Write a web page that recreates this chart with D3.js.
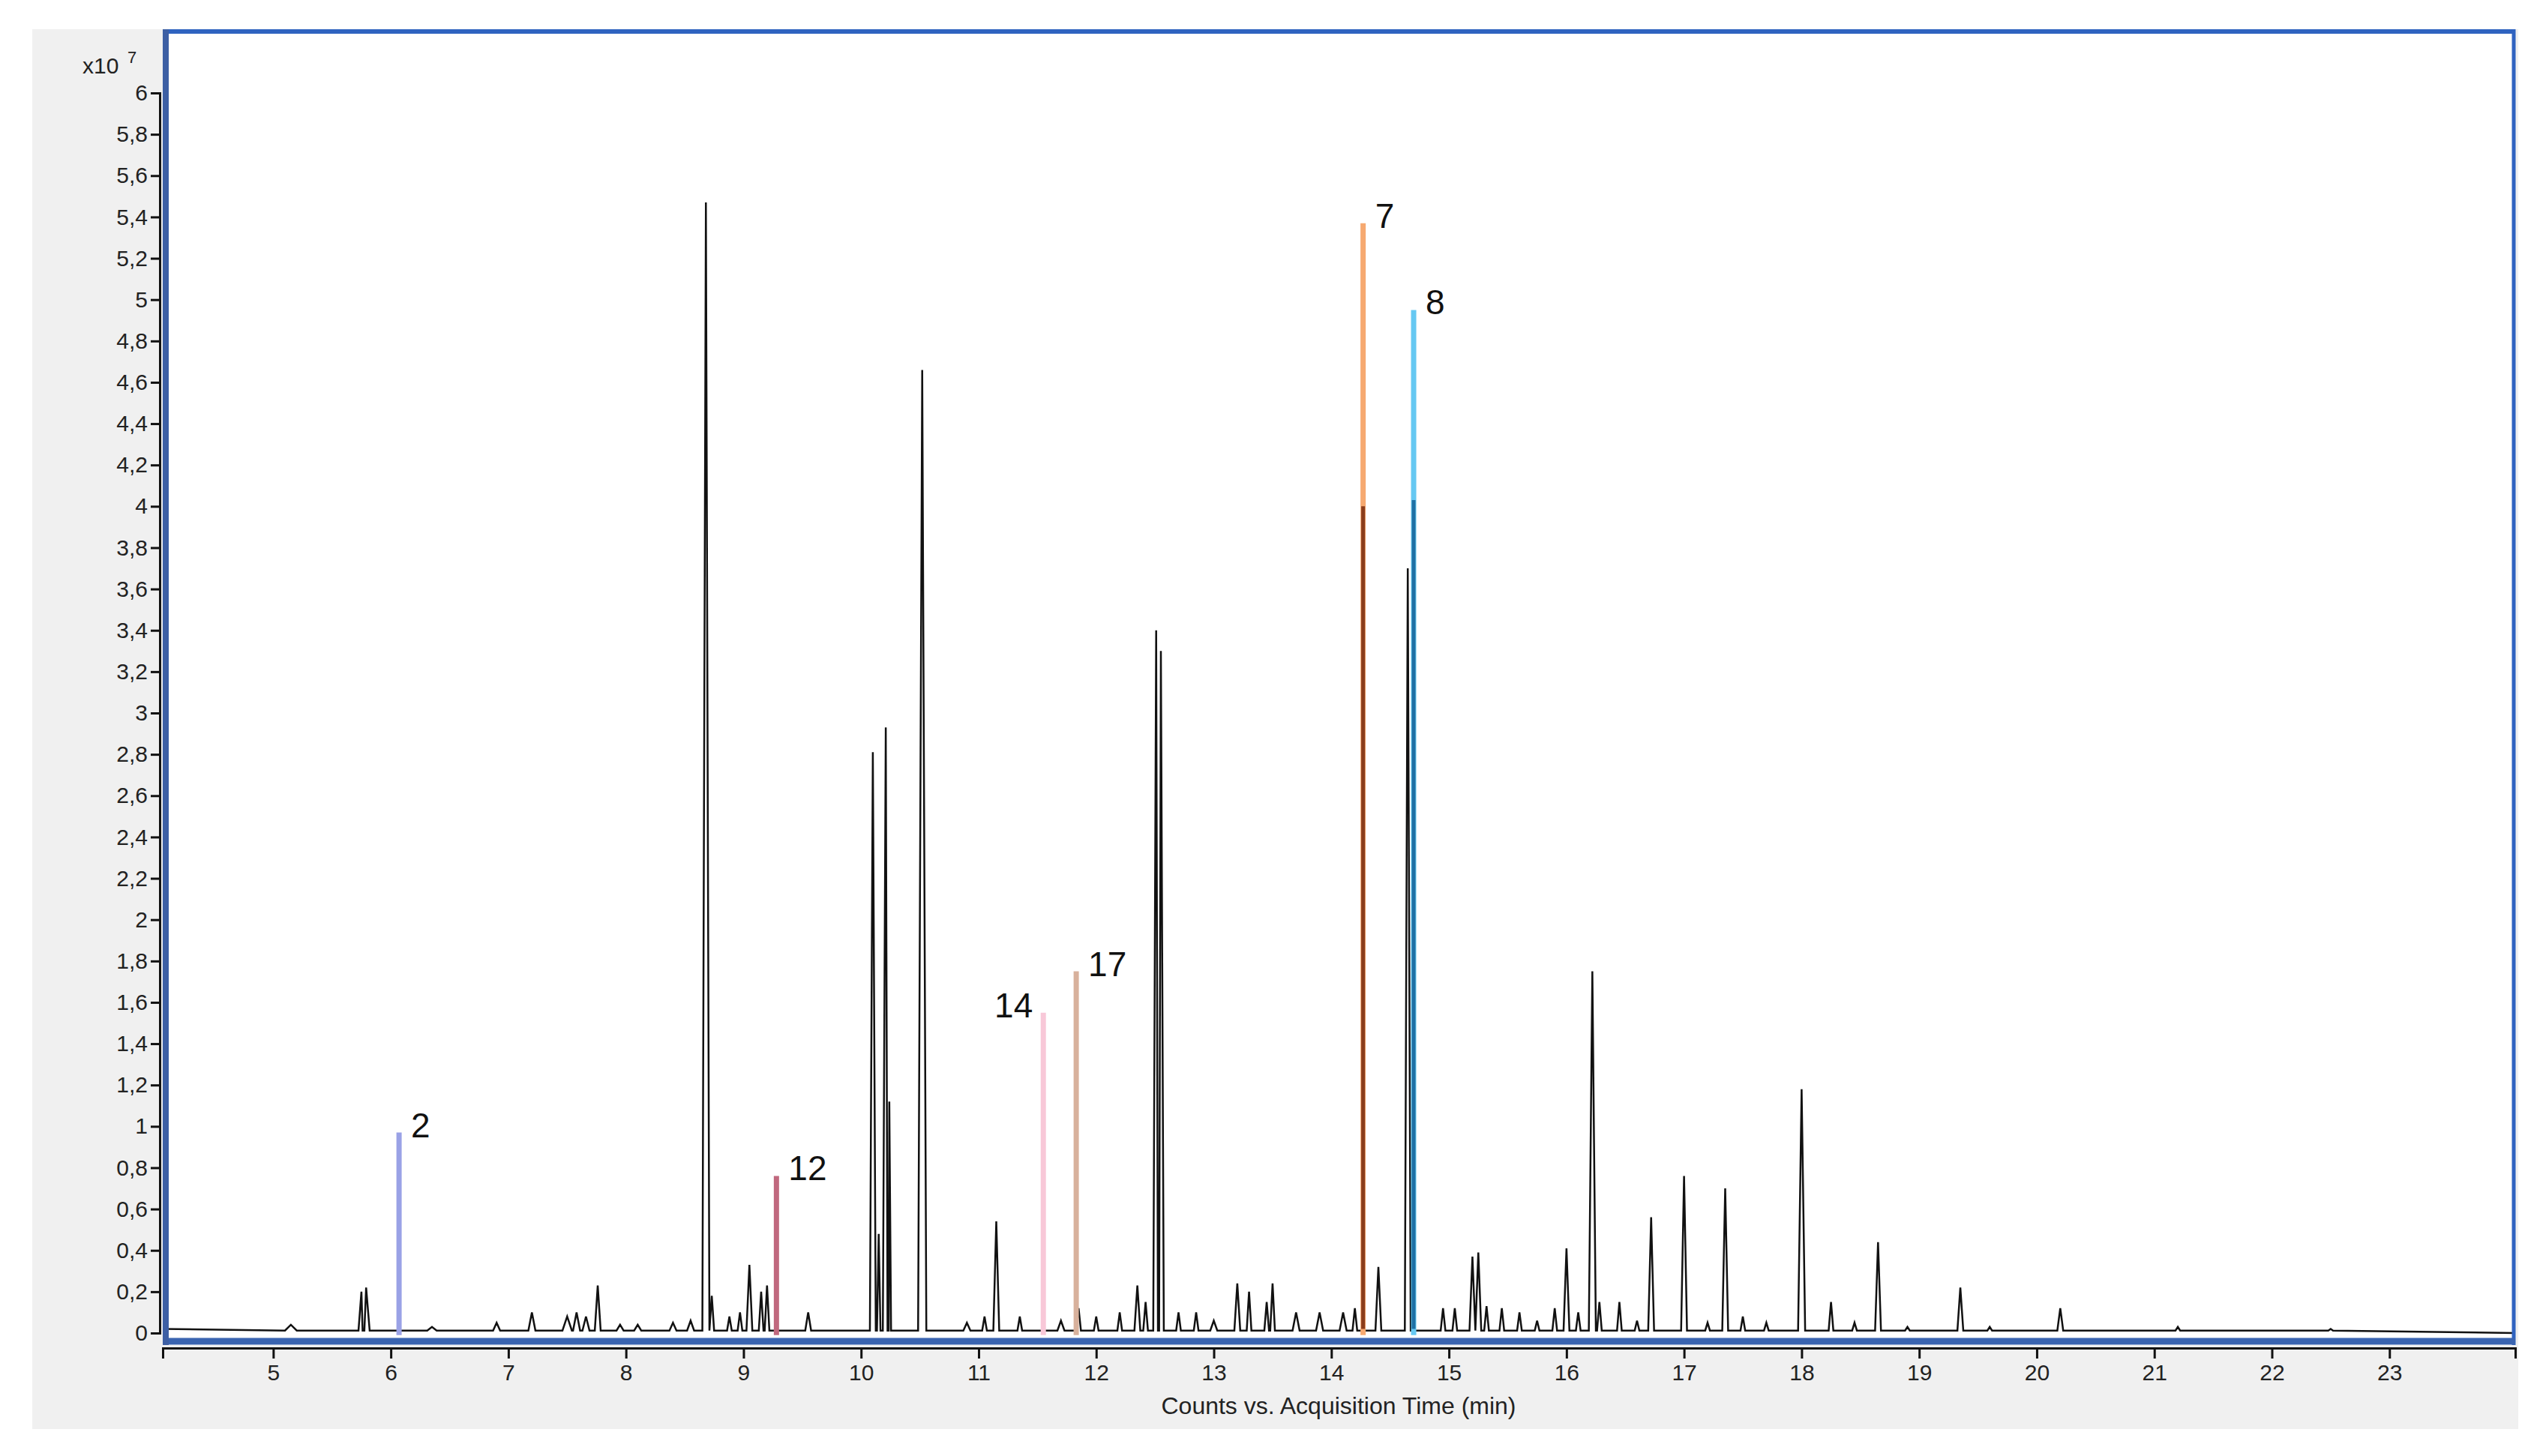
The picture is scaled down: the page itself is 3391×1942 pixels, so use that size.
<!DOCTYPE html>
<html><head><meta charset="utf-8">
<script src="https://cdn.jsdelivr.net/npm/d3@7"></script>
<style>body{margin:0;background:#fff}</style></head>
<body><svg id="c" width="3391" height="1942"></svg>
<script>
// black TIC peaks: [time(min), height (x10^7), half-width(min)]
const peakTimes = [5.15,5.75,5.79,6.35,6.9,7.2,7.5,7.58,7.66,7.76,7.95,8.1,8.4,8.55,8.68,8.73,8.88,8.97,9.05,9.15,9.2,9.55,10.1,10.15,10.21,10.24,10.52,10.9,11.05,11.15,11.35,11.7,11.85,12.0,12.2,12.35,12.42,12.51,12.55,12.7,12.85,13.0,13.2,13.3,13.45,13.5,13.7,13.9,14.1,14.2,14.4,14.65,14.95,15.05,15.2,15.25,15.32,15.45,15.6,15.75,15.9,16.0,16.1,16.22,16.28,16.45,16.6,16.72,17.0,17.2,17.35,17.5,17.7,18.0,18.25,18.45,18.65,18.9,19.35,19.6,20.2,21.2,22.5];
const peakHeights = [0.04,0.2,0.22,0.03,0.05,0.1,0.08,0.1,0.08,0.23,0.04,0.04,0.05,0.06,5.47,0.18,0.08,0.1,0.33,0.2,0.23,0.1,2.81,0.48,2.93,1.12,4.66,0.05,0.08,0.54,0.08,0.06,0.12,0.08,0.1,0.23,0.15,3.4,3.3,0.1,0.1,0.06,0.24,0.2,0.15,0.24,0.1,0.1,0.1,0.12,0.32,3.7,0.12,0.12,0.37,0.39,0.13,0.12,0.1,0.06,0.12,0.41,0.1,1.75,0.15,0.15,0.06,0.56,0.76,0.05,0.7,0.08,0.05,1.18,0.15,0.05,0.44,0.03,0.22,0.03,0.12,0.03,0.02];
const peakWidths = [0.05,0.025,0.03,0.04,0.03,0.03,0.04,0.03,0.03,0.025,0.03,0.03,0.03,0.03,0.03,0.02,0.02,0.02,0.025,0.02,0.02,0.025,0.025,0.015,0.025,0.015,0.035,0.03,0.02,0.025,0.02,0.03,0.02,0.02,0.02,0.025,0.02,0.025,0.025,0.02,0.02,0.03,0.025,0.02,0.02,0.02,0.03,0.03,0.03,0.02,0.025,0.025,0.02,0.02,0.025,0.025,0.02,0.02,0.02,0.02,0.02,0.025,0.02,0.03,0.02,0.02,0.02,0.025,0.025,0.02,0.025,0.02,0.02,0.03,0.02,0.02,0.025,0.02,0.025,0.02,0.025,0.02,0.02];
// highlighted compounds
const compLabels = ["2","12","14","17","7","8"];
const compTimes = [6.07,9.28,11.55,11.83,14.27,14.70];
const compHeights = [0.97,0.76,1.55,1.75,5.37,4.95];
const compInner = [0,0,0,0,4.0,4.03];
const compColors = ["#9aa2e6","#c0687e","#f8c8d8","#d8b19c","#f6a970","#66c8f2"];
const compInnerColors = ["","","","","#8a3d1c","#1f70a4"];
const xTicks = [5,6,7,8,9,10,11,12,13,14,15,16,17,18,19,20,21,22,23];
const yTicks = d3.range(0,31).map(i=>i/5);

const svg = d3.select("#c");
const L=217,R=3354,T=39,B=1794;
svg.append("rect").attr("x",43).attr("y",39).attr("width",3315).attr("height",1867).attr("fill","#f0f0f0");
svg.append("rect").attr("x",L).attr("y",T).attr("width",R-L).attr("height",B-T).attr("fill","#fff");
const x = d3.scaleLinear().domain([4.06,24.07]).range([L,R]);
const y = d3.scaleLinear().domain([0,6]).range([1778,124]);

function base(t){return t<5?0.02:0.012;}
const pts=[[4.06,0.02]];
peakTimes.forEach((t,i)=>{const w=peakWidths[i];pts.push([t-w,base(t)],[t,peakHeights[i]],[t+w,base(t)]);});
pts.push([24.07,0.0]);
pts.sort((a,b)=>a[0]-b[0]);
const line=d3.line().x(d=>x(d[0])).y(d=>y(d[1]));
const g=svg.append("g");
g.append("path").attr("d",line(pts)).attr("fill","none").attr("stroke","#111").attr("stroke-width",2.5);

compTimes.forEach((t,i)=>{
  g.append("line").attr("x1",x(t)).attr("x2",x(t)).attr("y1",y(-0.01)).attr("y2",y(compHeights[i])).attr("stroke",compColors[i]).attr("stroke-width",7);
  if(compInner[i]>0) g.append("line").attr("x1",x(t)).attr("x2",x(t)).attr("y1",y(0.02)).attr("y2",y(compInner[i])).attr("stroke",compInnerColors[i]).attr("stroke-width",5);
  const left = compLabels[i]==="14";
  svg.append("text").attr("x",left?x(t)-14:x(t)+16).attr("y",y(compHeights[i])+6).attr("text-anchor",left?"end":"start")
    .attr("font-family","Liberation Sans, Arial").attr("font-size",46).attr("fill","#111").text(compLabels[i]);
});

svg.append("line").attr("x1",L).attr("x2",R).attr("y1",T+3).attr("y2",T+3).attr("stroke","#2f63c0").attr("stroke-width",6);
svg.append("line").attr("x1",R-2).attr("x2",R-2).attr("y1",T).attr("y2",B).attr("stroke","#2f63c0").attr("stroke-width",5);
svg.append("line").attr("x1",L).attr("x2",R).attr("y1",B-5).attr("y2",B-5).attr("stroke","#3a64b0").attr("stroke-width",9);
svg.append("line").attr("x1",L+4).attr("x2",L+4).attr("y1",T).attr("y2",B).attr("stroke","#3d5fa4").attr("stroke-width",8);

const yAx=svg.append("g").attr("transform",`translate(${L-4},0)`)
  .call(d3.axisLeft(y).tickValues(yTicks).tickSize(12).tickPadding(4).tickFormat(d=>d3.format(".1~f")(d).replace(".",",")));
yAx.select(".domain").attr("stroke","#111").attr("stroke-width",3);
const xAx=svg.append("g").attr("transform",`translate(0,${B+4})`)
  .call(d3.axisBottom(x).tickValues(xTicks).tickSize(14).tickPadding(8).tickFormat(d3.format("d")));
xAx.select(".domain").attr("stroke","#111").attr("stroke-width",3);
svg.selectAll(".tick text").attr("font-family","Liberation Sans, Arial").attr("font-size",30).attr("fill","#222");
svg.selectAll(".tick line").attr("stroke","#111").attr("stroke-width",3);
svg.append("text").attr("x",110).attr("y",98).attr("font-family","Liberation Sans, Arial").attr("font-size",30).attr("fill","#222").text("x10");
svg.append("text").attr("x",170).attr("y",84).attr("font-family","Liberation Sans, Arial").attr("font-size",22).attr("fill","#222").text("7");
svg.append("text").attr("x",1785).attr("y",1886).attr("text-anchor","middle").attr("font-family","Liberation Sans, Arial").attr("font-size",32).attr("fill","#222").text("Counts vs. Acquisition Time (min)");
</script></body></html>
